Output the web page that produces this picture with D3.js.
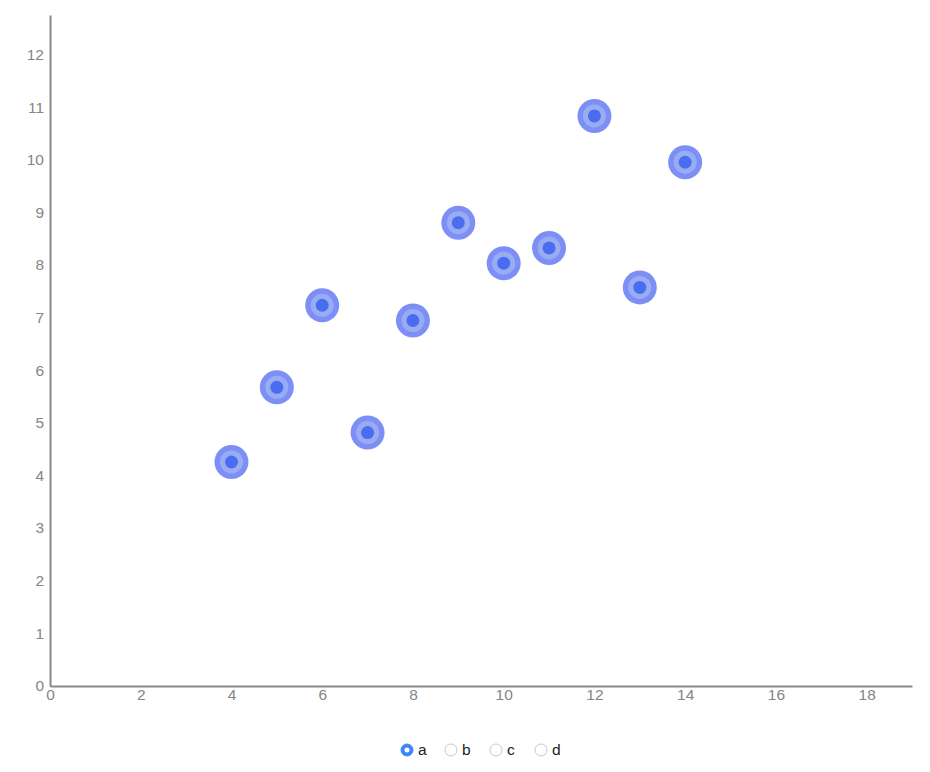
<!DOCTYPE html>
<html>
<head>
<meta charset="utf-8">
<script src="https://cdn.jsdelivr.net/npm/d3@7"></script>
<style>
  body { margin: 0; background: #fff; font-family: "Liberation Sans", Arial, sans-serif; }
  .axis path { stroke: #888; stroke-width: 2; }
</style>
</head>
<body>
<div id="chart"></div>
<script>
// Anscombe set "a"
const xs = [10, 8, 13, 9, 11, 14, 6, 4, 12, 7, 5]
const ys = [8.04, 6.95, 7.58, 8.81, 8.33, 9.96, 7.24, 4.26, 10.84, 4.82, 5.68]
const sets = ["a", "b", "c", "d"]
const xTicks = [0, 2, 4, 6, 8, 10, 12, 14, 16, 18]
const yTicks = [0, 1, 2, 3, 4, 5, 6, 7, 8, 9, 10, 11, 12]

const points = xs.map((x, i) => ({ x: x, y: ys[i] }))

const fullWidth = 930
const fullHeight = 772
const margin = { top: 15, right: 18, bottom: 86, left: 50 }
const width = fullWidth - margin.left - margin.right
const height = fullHeight - margin.top - margin.bottom

const svg = d3.select("#chart")
  .append("svg")
  .attr("width", fullWidth)
  .attr("height", fullHeight)

const g = svg.append("g")
  .attr("transform", `translate(${margin.left},${margin.top})`)

const xScale = d3.scaleLinear().domain([0, 19]).range([0, width])
const yScale = d3.scaleLinear().domain([0, 12.76]).range([height, 0])

const xAxis = d3.axisBottom(xScale).tickValues(xTicks).tickSize(0).tickPadding(3).tickSizeOuter(0)
const yAxis = d3.axisLeft(yScale).tickValues(yTicks).tickSize(0).tickPadding(6).tickSizeOuter(0)

g.append("g")
  .classed("x axis", true)
  .attr("transform", `translate(0,${height})`)
  .call(xAxis)

g.append("g")
  .classed("y axis", true)
  .call(yAxis)

g.selectAll(".axis")
  .attr("font-family", null)
  .attr("font-size", null)
g.selectAll(".axis text")
  .attr("fill", "#858585")
  .style("font-size", "15.5px")
g.selectAll(".y.axis .tick text").attr("dy", "0.3em")

// points: outer ring, mid ring, core
const dots = g.append("g").selectAll("g.pt")
  .data(points)
  .enter()
  .append("g")
  .classed("pt", true)
  .attr("transform", d => `translate(${xScale(d.x)},${yScale(d.y)})`)

dots.append("circle").attr("r", 17).attr("fill", "#7d8ff6")
dots.append("circle").attr("r", 11.5).attr("fill", "#98adf1")
dots.append("circle").attr("r", 6.5).attr("fill", "#4a6cf1")

// radio legend
const legendX = [407, 451, 496, 541]
const legend = svg.append("g").selectAll("g.opt")
  .data(sets)
  .enter()
  .append("g")
  .classed("opt", true)
  .attr("transform", (d, i) => `translate(${legendX[i]},750)`)

legend.append("circle")
  .attr("r", 6)
  .attr("fill", (d, i) => i === 0 ? "#3b86f7" : "#fff")
  .attr("stroke", (d, i) => i === 0 ? "#3b86f7" : "#c8c8c8")
  .attr("stroke-width", 1)

legend.filter((d, i) => i === 0)
  .append("circle")
  .attr("r", 2.5)
  .attr("fill", "#fff")

legend.append("text")
  .attr("x", 11)
  .attr("dy", "0.35em")
  .attr("font-size", 15.5)
  .attr("fill", "#222")
  .text(d => d)
</script>
</body>
</html>
